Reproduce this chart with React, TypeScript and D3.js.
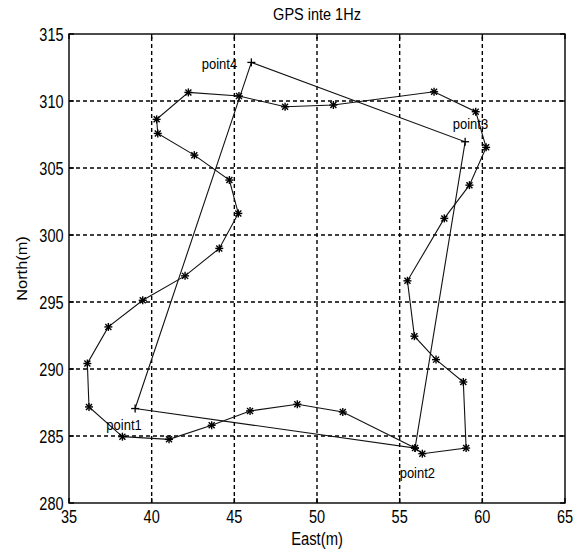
import React from "react";
import * as d3 from "d3";

const W = 581;
const H = 553;

const titleText = "GPS inte 1Hz";
const xLabel = "East(m)";
const yLabel = "North(m)";

const xTicks = [35, 40, 45, 50, 55, 60, 65];
const yTicks = [280, 285, 290, 295, 300, 305, 310, 315];

// GPS 1Hz trajectory (star markers), closed loop
const gpsEast = [
  38.23, 41.05, 43.63, 45.95, 48.81, 51.56, 55.93, 56.37, 59.02, 58.85, 57.2,
  55.89, 55.47, 57.7, 59.22, 60.23, 59.6, 57.08, 50.99, 48.07, 45.28, 42.22,
  40.3, 40.37, 42.58, 44.7, 45.24, 44.09, 42.02, 39.46, 37.38, 36.11, 36.21,
  38.23,
];
const gpsNorth = [
  284.95, 284.75, 285.8, 286.87, 287.37, 286.79, 284.1, 283.68, 284.1, 289.03,
  290.7, 292.45, 296.58, 301.24, 303.72, 306.54, 309.2, 310.69, 309.7, 309.57,
  310.37, 310.64, 308.63, 307.58, 305.96, 304.1, 301.61, 299.0, 296.95, 295.13,
  293.14, 290.41, 287.17, 284.95,
];

// Reference route through the four corner points
const routeEast = [39.0, 55.93, 58.96, 46.03, 39.0];
const routeNorth = [287.05, 284.1, 306.96, 312.88, 287.05];

const pointNames = ["point1", "point2", "point3", "point4"];
const pointLabelEast = [37.26, 55.0, 58.21, 43.03];
const pointLabelNorth = [285.43, 281.84, 307.91, 312.42];

const FONT = "'Liberation Sans', Arial, Helvetica, sans-serif";

export default function App() {
  const x = d3.scaleLinear().domain([35, 65]).range([69, 565]);
  const y = d3.scaleLinear().domain([280, 315]).range([503, 34]);
  const [x0, x1] = x.range();
  const [y0, y1] = y.range();

  const line = d3
    .line<[number, number]>()
    .x((d) => x(d[0]))
    .y((d) => y(d[1]));

  const gps: [number, number][] = gpsEast.map((e, i) => [e, gpsNorth[i]]);
  const route: [number, number][] = routeEast.map((e, i) => [e, routeNorth[i]]);

  const star = (cx: number, cy: number, k: number) => (
    <g key={k} stroke="#000" strokeWidth={1.4}>
      <line x1={cx - 4} y1={cy} x2={cx + 4} y2={cy} />
      <line x1={cx} y1={cy - 4} x2={cx} y2={cy + 4} />
      <line x1={cx - 3} y1={cy - 3} x2={cx + 3} y2={cy + 3} />
      <line x1={cx - 3} y1={cy + 3} x2={cx + 3} y2={cy - 3} />
    </g>
  );
  const plus = (cx: number, cy: number, k: number) => (
    <g key={k} stroke="#000" strokeWidth={1.3}>
      <line x1={cx - 4} y1={cy} x2={cx + 4} y2={cy} />
      <line x1={cx} y1={cy - 4} x2={cx} y2={cy + 4} />
    </g>
  );

  return (
    <svg
      width={W}
      height={H}
      style={{ position: "absolute", left: 0, top: 0, background: "#fff" }}
      fontFamily={FONT}
    >
      <rect x={0} y={0} width={W} height={H} fill="#fff" />
      {/* grid */}
      <g stroke="#000" strokeWidth={1.4} strokeDasharray="4,3">
        {xTicks.slice(1, -1).map((v) => (
          <line key={"gx" + v} x1={x(v)} x2={x(v)} y1={y0} y2={y1} />
        ))}
        {yTicks.slice(1, -1).map((v) => (
          <line key={"gy" + v} x1={x0} x2={x1} y1={y(v)} y2={y(v)} />
        ))}
      </g>
      {/* box */}
      <rect
        x={x0}
        y={y1}
        width={x1 - x0}
        height={y0 - y1}
        fill="none"
        stroke="#000"
        strokeWidth={1.4}
      />
      {/* ticks */}
      <g stroke="#000" strokeWidth={1.4}>
        {xTicks.map((v) => (
          <g key={"tx" + v}>
            <line x1={x(v)} x2={x(v)} y1={y0} y2={y0 - 5} />
            <line x1={x(v)} x2={x(v)} y1={y1} y2={y1 + 5} />
          </g>
        ))}
        {yTicks.map((v) => (
          <g key={"ty" + v}>
            <line x1={x0} x2={x0 + 5} y1={y(v)} y2={y(v)} />
            <line x1={x1} x2={x1 - 5} y1={y(v)} y2={y(v)} />
          </g>
        ))}
      </g>
      {/* tick labels */}
      <g fontSize={14.5} fill="#000">
        {xTicks.map((v) => (
          <text
            key={"lx" + v}
            textAnchor="middle"
            transform={`translate(${x(v)},${522.5}) scale(1,1.3)`}
          >
            {v}
          </text>
        ))}
        {yTicks.map((v) => (
          <text
            key={"ly" + v}
            textAnchor="end"
            transform={`translate(${63.5},${y(v) + 6.5}) scale(1,1.25)`}
          >
            {v}
          </text>
        ))}
      </g>
      {/* data */}
      <path d={line(route) || ""} fill="none" stroke="#111" strokeWidth={1.1} />
      <path d={line(gps) || ""} fill="none" stroke="#111" strokeWidth={1.1} />
      {gps.slice(0, -1).map((d, i) => star(x(d[0]), y(d[1]), i))}
      {route.slice(0, -1).map((d, i) => plus(x(d[0]), y(d[1]), 100 + i))}
      {/* point labels */}
      <g fontSize={13} fill="#000">
        {pointNames.map((n, i) => (
          <text
            key={n}
            transform={`translate(${x(pointLabelEast[i])},${y(
              pointLabelNorth[i]
            )}) scale(1,1.12)`}
          >
            {n}
          </text>
        ))}
      </g>
      {/* title and axis labels */}
      <text
        fontSize={14.5}
        textAnchor="middle"
        transform={`translate(${(x0 + x1) / 2},${20}) scale(1,1.16)`}
      >
        {titleText}
      </text>
      <text
        fontSize={14.8}
        textAnchor="middle"
        transform={`translate(${(x0 + x1) / 2},${544.5}) scale(1,1.28)`}
      >
        {xLabel}
      </text>
      <text
        fontSize={14}
        textAnchor="middle"
        transform={`translate(${27},${(y0 + y1) / 2}) rotate(-90) scale(1.17,1)`}
      >
        {yLabel}
      </text>
    </svg>
  );
}
